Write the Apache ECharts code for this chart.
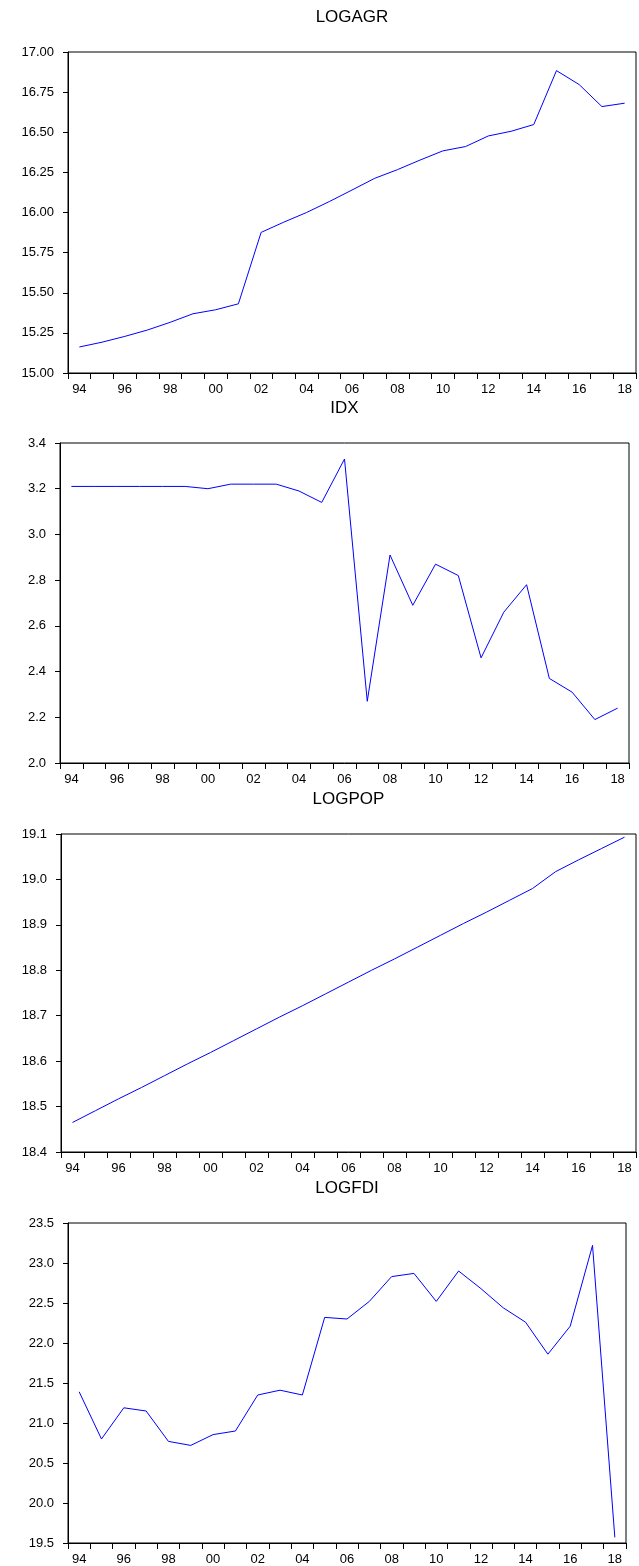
<!DOCTYPE html>
<html>
<head>
<meta charset="utf-8">
<script src="https://cdn.jsdelivr.net/npm/echarts@6/dist/echarts.min.js"></script>
<style>
  html, body { margin: 0; padding: 0; background: #fff; }
  #chart { width: 639px; height: 1566px; }
</style>
</head>
<body>
<div id="chart"></div>
<script>
// years 1994..2018, shown as two-digit labels
const years = ['94', '95', '96', '97', '98', '99', '00', '01', '02', '03', '04', '05', '06',
  '07', '08', '09', '10', '11', '12', '13', '14', '15', '16', '17', '18'];

const logagr = [15.162, 15.192, 15.228, 15.268, 15.316, 15.369, 15.394, 15.431, 15.876, 15.940,
  16.000, 16.068, 16.140, 16.213, 16.267, 16.327, 16.384, 16.411, 16.477, 16.506,
  16.548, 16.884, 16.797, 16.660, 16.681];

const idx = [3.21, 3.21, 3.21, 3.21, 3.21, 3.21, 3.20, 3.22, 3.22, 3.22,
  3.19, 3.14, 3.33, 2.27, 2.91, 2.69, 2.87, 2.82, 2.46, 2.66,
  2.78, 2.37, 2.31, 2.19, 2.24];

const logpop = [18.465, 18.491, 18.517, 18.542, 18.568, 18.594, 18.619, 18.645, 18.671, 18.697,
  18.722, 18.748, 18.774, 18.800, 18.825, 18.851, 18.877, 18.903, 18.928, 18.954,
  18.980, 19.017, 19.043, 19.068, 19.093];

const logfdi = [21.39, 20.80, 21.19, 21.15, 20.77, 20.72, 20.855, 20.90, 21.35, 21.41,
  21.35, 22.32, 22.30, 22.52, 22.83, 22.87, 22.52, 22.90, 22.68, 22.44,
  22.26, 21.86, 22.21, 23.22, 19.57];

const names = ['LOGAGR', 'IDX', 'LOGPOP', 'LOGFDI'];
const series = [logagr, idx, logpop, logfdi];
const yMin = [15, 2.0, 18.4, 19.5];
const yMax = [17, 3.4, 19.1, 23.5];
const yStep = [0.25, 0.2, 0.1, 0.5];
const yDigits = [2, 1, 1, 1];

// panel boxes in px: left, right margin, top, height
const boxes = [
  { left: 68, right: 3, top: 52, height: 321 },
  { left: 60, right: 10, top: 443, height: 320 },
  { left: 61, right: 3, top: 834, height: 318 },
  { left: 68, right: 13, top: 1223, height: 322 }
];

const W = 639;
const font = '"Liberation Sans", Arial, sans-serif';

const chart = echarts.init(document.getElementById('chart'), null, { renderer: 'canvas' });

const option = {
  backgroundColor: '#fff',
  animation: false,
  title: boxes.map((b, i) => ({
    text: names[i],
    left: (b.left + (W - b.right)) / 2,
    top: b.top - 43,
    textAlign: 'center',
    padding: 0,
    textStyle: { fontFamily: font, fontSize: 17, fontWeight: 'normal', color: '#000' }
  })),
  grid: boxes.map(b => ({
    left: b.left, right: b.right, top: b.top, height: b.height,
    show: true, borderColor: '#000', borderWidth: 1, backgroundColor: '#fff'
  })),
  xAxis: boxes.map((b, i) => ({
    type: 'category',
    gridIndex: i,
    data: years,
    boundaryGap: true,
    axisLine: { lineStyle: { color: '#000', width: 1 } },
    axisTick: { show: true, interval: 0, length: 6, lineStyle: { color: '#000' } },
    axisLabel: { interval: 1, margin: 10, color: '#000', fontFamily: font, fontSize: 13 },
    splitLine: { show: false }
  })),
  yAxis: boxes.map((b, i) => ({
    type: 'value',
    gridIndex: i,
    min: yMin[i],
    max: yMax[i],
    interval: yStep[i],
    axisLine: { show: true, lineStyle: { color: '#000', width: 1 } },
    axisTick: { show: true, length: 5, lineStyle: { color: '#000' } },
    axisLabel: {
      margin: 14, color: '#000', fontFamily: font, fontSize: 13,
      formatter: v => v.toFixed(yDigits[i])
    },
    splitLine: { show: false }
  })),
  series: series.map((d, i) => ({
    type: 'line',
    name: names[i],
    xAxisIndex: i,
    yAxisIndex: i,
    data: d,
    symbol: 'none',
    lineStyle: { color: '#0000ff', width: 1 }
  }))
};

chart.setOption(option);
</script>
</body>
</html>
